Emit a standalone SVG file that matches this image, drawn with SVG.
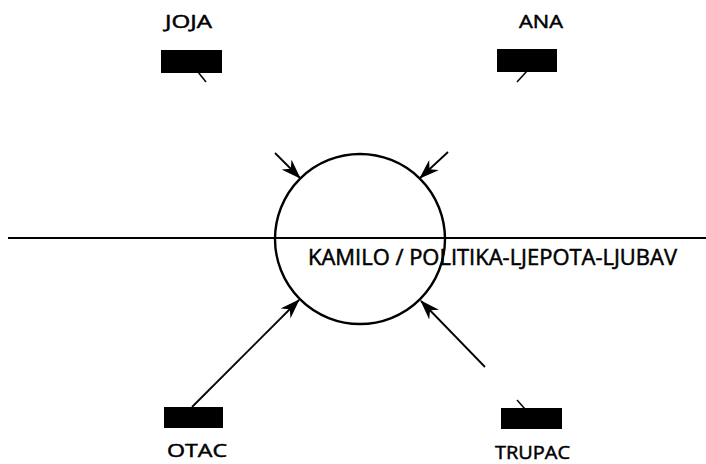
<svg xmlns="http://www.w3.org/2000/svg" width="706" height="464" viewBox="0 0 706 464">
<style>
.lbl{font-family:"Open Sans","Liberation Sans",sans-serif;font-size:19px;fill:#000;stroke:#000;stroke-width:0.5}
.main{font-family:"Open Sans","Liberation Sans",sans-serif;font-size:21px;fill:#000;stroke:#000;stroke-width:0.5}
.box{fill:#000}
.tick{stroke:#000;stroke-width:1.5;fill:none}
.conn{stroke:#000;stroke-width:1.8;fill:none}
</style>
<defs>
<marker id="ah" viewBox="0 0 20 14" refX="19" refY="7" markerWidth="20" markerHeight="14" markerUnits="userSpaceOnUse" orient="auto">
<path d="M0,0 L20,7 L0,14 L6,7 Z" fill="#000"/>
</marker>
</defs>
<rect width="706" height="464" fill="#fff"/>
<line x1="8" y1="238" x2="706" y2="238" stroke="#000" stroke-width="2.2"/>
<g id="kamilo">
<circle cx="360" cy="239" r="85" fill="none" stroke="#000" stroke-width="2.4"/>
<text class="main" x="308" y="265" textLength="369" lengthAdjust="spacingAndGlyphs">KAMILO / POLITIKA-LJEPOTA-LJUBAV</text>
</g>
<g id="joja">
<text class="lbl" x="165" y="28" textLength="47" lengthAdjust="spacingAndGlyphs">JOJA</text>
<rect class="box" x="161" y="50" width="61" height="23"/>
<line class="tick" x1="198" y1="72" x2="206" y2="82"/>
</g>
<g id="ana">
<text class="lbl" x="519" y="28" textLength="44" lengthAdjust="spacingAndGlyphs">ANA</text>
<rect class="box" x="497" y="49" width="60" height="23"/>
<line class="tick" x1="527" y1="71" x2="517" y2="82"/>
</g>
<g id="otac">
<rect class="box" x="164" y="407" width="59" height="21"/>
<text class="lbl" x="167" y="457" textLength="60" lengthAdjust="spacingAndGlyphs">OTAC</text>
</g>
<g id="trupac">
<rect class="box" x="501" y="408" width="61" height="21"/>
<line class="tick" x1="517" y1="400" x2="525" y2="409"/>
<text class="lbl" x="495" y="459" textLength="75" lengthAdjust="spacingAndGlyphs">TRUPAC</text>
</g>
<g id="connectors">
<line class="conn" x1="275" y1="153" x2="300" y2="178" marker-end="url(#ah)"/>
<line class="conn" x1="448" y1="152" x2="420" y2="178" marker-end="url(#ah)"/>
<line class="conn" x1="192" y1="407" x2="299" y2="300" marker-end="url(#ah)"/>
<line class="conn" x1="485" y1="367" x2="421" y2="301" marker-end="url(#ah)"/>
</g>
</svg>
